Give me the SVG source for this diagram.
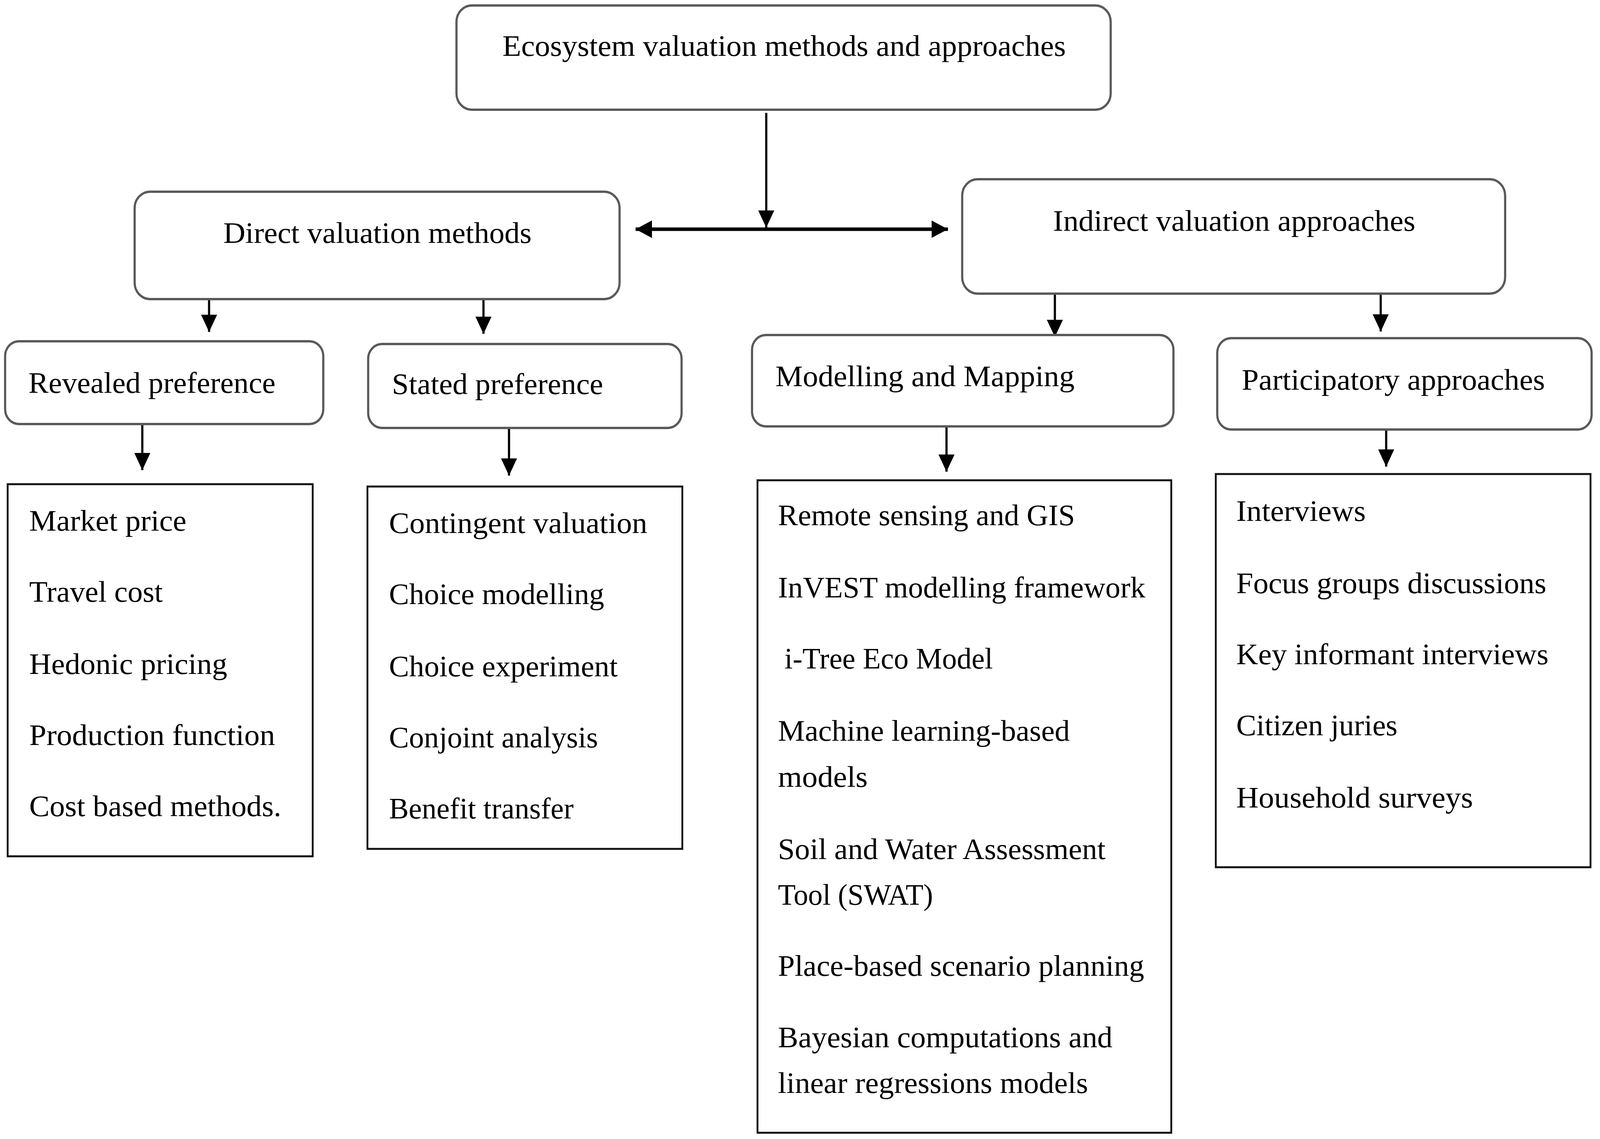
<svg xmlns="http://www.w3.org/2000/svg" width="4385" height="2917" viewBox="0 0 4385 2917" preserveAspectRatio="none">
<style>
svg{width:100vw;height:100vh}
text{font-family:"Liberation Serif","Times New Roman",serif;font-size:77px;fill:#000}
.rb{fill:#fff;stroke:#5a5a5a;stroke-width:6}
.sb{fill:#fff;stroke:#111;stroke-width:5}
.ar{stroke:#000;stroke-width:6;fill:none;marker-end:url(#ah)}
.dbl{stroke:#000;stroke-width:9;fill:none;marker-start:url(#ah2);marker-end:url(#ah2)}
</style>
<defs>
<marker id="ah" viewBox="0 0 10 10" refX="10" refY="5" markerWidth="46" markerHeight="44" markerUnits="userSpaceOnUse" orient="auto"><path d="M0,0 L10,5 L0,10 z" fill="#000"/></marker>
<marker id="ah2" viewBox="0 0 10 10" refX="10" refY="5" markerWidth="45" markerHeight="46" markerUnits="userSpaceOnUse" orient="auto-start-reverse"><path d="M0,0 L10,5 L0,10 z" fill="#000"/></marker>
</defs>
<rect width="4385" height="2917" fill="#fff"/>
<g id="connectors">
<line class="ar" x1="2100" y1="289" x2="2100" y2="583"/>
<line class="dbl" x1="1742" y1="587" x2="2598" y2="587"/>
<line class="ar" x1="573" y1="767" x2="573" y2="850"/>
<line class="ar" x1="1325" y1="767" x2="1325" y2="855"/>
<line class="ar" x1="2891" y1="754" x2="2891" y2="863"/>
<line class="ar" x1="3784" y1="754" x2="3784" y2="849"/>
<line class="ar" x1="390" y1="1086" x2="390" y2="1204"/>
<line class="ar" x1="1395" y1="1096" x2="1395" y2="1218"/>
<line class="ar" x1="2594" y1="1092" x2="2594" y2="1208"/>
<line class="ar" x1="3799" y1="1100" x2="3799" y2="1195"/>
</g>
<g id="n-ecosystem">
<rect class="rb" x="1251" y="14" width="1793" height="267" rx="42"/>
<text x="1377" y="143" textLength="1544" lengthAdjust="spacingAndGlyphs">Ecosystem valuation methods and approaches</text>
</g>
<g id="n-direct">
<rect class="rb" x="369" y="491" width="1329" height="275" rx="42"/>
<text x="612" y="622" textLength="845" lengthAdjust="spacingAndGlyphs">Direct valuation methods</text>
</g>
<g id="n-indirect">
<rect class="rb" x="2637" y="459" width="1488" height="293" rx="42"/>
<text x="2886" y="591" textLength="993" lengthAdjust="spacingAndGlyphs">Indirect valuation approaches</text>
</g>
<g id="n-revealed">
<rect class="rb" x="14" y="874" width="872" height="212" rx="38"/>
<text x="78" y="1006" textLength="677" lengthAdjust="spacingAndGlyphs">Revealed preference</text>
</g>
<g id="n-stated">
<rect class="rb" x="1009" y="881" width="859" height="215" rx="38"/>
<text x="1074" y="1009" textLength="579" lengthAdjust="spacingAndGlyphs">Stated preference</text>
</g>
<g id="n-modelling">
<rect class="rb" x="2061" y="858" width="1155" height="234" rx="38"/>
<text x="2125" y="989" textLength="820" lengthAdjust="spacingAndGlyphs">Modelling and Mapping</text>
</g>
<g id="n-participatory">
<rect class="rb" x="3336" y="866" width="1026" height="234" rx="38"/>
<text x="3403" y="998" textLength="831" lengthAdjust="spacingAndGlyphs">Participatory approaches</text>
</g>
<g id="n-revealed-list">
<rect class="sb" x="21" y="1240" width="836" height="953"/>
<text x="80" y="1359" textLength="431" lengthAdjust="spacingAndGlyphs">Market price</text>
<text x="80" y="1541" textLength="366" lengthAdjust="spacingAndGlyphs">Travel cost</text>
<text x="80" y="1726" textLength="543" lengthAdjust="spacingAndGlyphs">Hedonic pricing</text>
<text x="80" y="1908" textLength="674" lengthAdjust="spacingAndGlyphs">Production function</text>
<text x="80" y="2090" textLength="691" lengthAdjust="spacingAndGlyphs">Cost based methods.</text>
</g>
<g id="n-stated-list">
<rect class="sb" x="1007" y="1246" width="863" height="928"/>
<text x="1066" y="1365" textLength="708" lengthAdjust="spacingAndGlyphs">Contingent valuation</text>
<text x="1066" y="1547" textLength="590" lengthAdjust="spacingAndGlyphs">Choice modelling</text>
<text x="1066" y="1732" textLength="627" lengthAdjust="spacingAndGlyphs">Choice experiment</text>
<text x="1066" y="1914" textLength="573" lengthAdjust="spacingAndGlyphs">Conjoint analysis</text>
<text x="1066" y="2096" textLength="506" lengthAdjust="spacingAndGlyphs">Benefit transfer</text>
</g>
<g id="n-modelling-list">
<rect class="sb" x="2076" y="1230" width="1134" height="1671"/>
<text x="2132" y="1345" textLength="814" lengthAdjust="spacingAndGlyphs">Remote sensing and GIS</text>
<text x="2132" y="1530" textLength="1007" lengthAdjust="spacingAndGlyphs">InVEST modelling framework</text>
<text x="2150" y="1712" textLength="571" lengthAdjust="spacingAndGlyphs">i-Tree Eco Model</text>
<text x="2132" y="1897" textLength="800" lengthAdjust="spacingAndGlyphs">Machine learning-based</text>
<text x="2132" y="2015" textLength="246" lengthAdjust="spacingAndGlyphs">models</text>
<text x="2132" y="2200" textLength="898" lengthAdjust="spacingAndGlyphs">Soil and Water Assessment</text>
<text x="2132" y="2317" textLength="425" lengthAdjust="spacingAndGlyphs">Tool (SWAT)</text>
<text x="2132" y="2499" textLength="1004" lengthAdjust="spacingAndGlyphs">Place-based scenario planning</text>
<text x="2132" y="2682" textLength="917" lengthAdjust="spacingAndGlyphs">Bayesian computations and</text>
<text x="2132" y="2799" textLength="850" lengthAdjust="spacingAndGlyphs">linear regressions models</text>
</g>
<g id="n-participatory-list">
<rect class="sb" x="3332" y="1214" width="1027" height="1007"/>
<text x="3388" y="1334" textLength="355" lengthAdjust="spacingAndGlyphs">Interviews</text>
<text x="3388" y="1519" textLength="850" lengthAdjust="spacingAndGlyphs">Focus groups discussions</text>
<text x="3388" y="1701" textLength="856" lengthAdjust="spacingAndGlyphs">Key informant interviews</text>
<text x="3388" y="1883" textLength="442" lengthAdjust="spacingAndGlyphs">Citizen juries</text>
<text x="3388" y="2068" textLength="649" lengthAdjust="spacingAndGlyphs">Household surveys</text>
</g>
</svg>
